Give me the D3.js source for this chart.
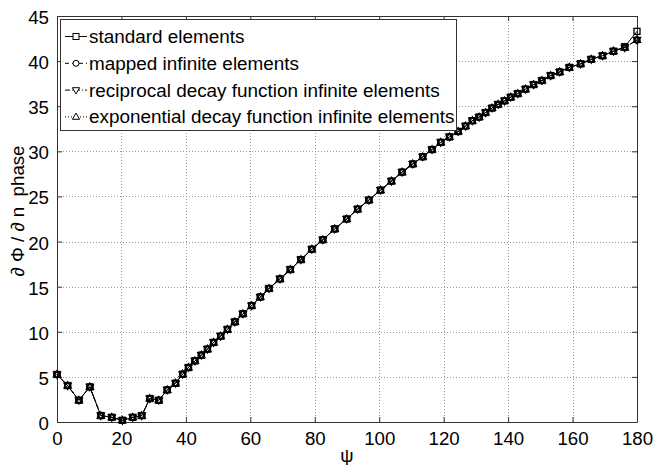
<!DOCTYPE html>
<html lang="en">
<head>
<meta charset="UTF-8">
<title>Phase derivative vs psi</title>
<script src="https://d3js.org/d3.v7.min.js"></script>
<style>
    body { margin: 0; background: #fff; }
    text { font-family: "Liberation Sans", Arial, sans-serif; fill: #000; }
</style>
</head>
<body>
<div id="chart"></div>
<script>
    // psi values (x)
    const psi = [0, 3.3, 6.8, 10.2, 13.6, 17.0, 20.3, 23.5, 26.3, 28.8,
        31.6, 34.2, 36.8, 39.0, 40.8, 42.8, 44.8, 46.7, 48.6, 50.8,
        52.9, 55.2, 57.7, 60.4, 63.1, 65.8, 69.2, 72.4, 75.7, 79.1,
        82.5, 86.2, 89.9, 93.3, 96.8, 100.4, 103.8, 107.1, 110.4, 113.5,
        116.4, 119.1, 121.8, 124.5, 126.8, 128.9, 131.0, 133.0, 135.0, 136.9,
        138.9, 140.8, 143.0, 145.4, 147.9, 150.5, 153.2, 156.0, 159.0, 162.5,
        165.8, 169.3, 172.7, 176.2, 180];

    const standardPhase = [5.27, 4.04, 2.41, 3.89, 0.71, 0.52, 0.19, 0.52, 0.71, 2.6,
        2.41, 3.56, 4.3, 5.3, 6.04, 6.78, 7.41, 8.08, 8.82, 9.52,
        10.27, 11.1, 12.0, 12.9, 13.86, 14.8, 15.86, 16.9, 18.0, 19.15,
        20.2, 21.4, 22.5, 23.6, 24.6, 25.7, 26.7, 27.7, 28.6, 29.4,
        30.2, 31.0, 31.6, 32.2, 32.8, 33.4, 33.8, 34.3, 34.8, 35.2,
        35.6, 36.0, 36.4, 36.9, 37.4, 37.85, 38.4, 38.8, 39.3, 39.7,
        40.2, 40.6, 41.1, 41.6, 43.3];

    const mappedPhase = [5.27, 4.04, 2.41, 3.89, 0.71, 0.52, 0.19, 0.52, 0.71, 2.6,
        2.41, 3.56, 4.3, 5.3, 6.04, 6.78, 7.41, 8.08, 8.82, 9.52,
        10.27, 11.1, 12.0, 12.9, 13.86, 14.8, 15.86, 16.9, 18.0, 19.15,
        20.2, 21.4, 22.5, 23.6, 24.6, 25.7, 26.7, 27.7, 28.6, 29.4,
        30.2, 31.0, 31.6, 32.2, 32.8, 33.4, 33.8, 34.3, 34.8, 35.2,
        35.6, 36.0, 36.4, 36.9, 37.4, 37.85, 38.4, 38.8, 39.3, 39.7,
        40.2, 40.6, 41.1, 41.5, 42.35];

    const reciprocalPhase = [5.27, 4.04, 2.41, 3.89, 0.71, 0.52, 0.19, 0.52, 0.71, 2.6,
        2.41, 3.56, 4.3, 5.3, 6.04, 6.78, 7.41, 8.08, 8.82, 9.52,
        10.27, 11.1, 12.0, 12.9, 13.86, 14.8, 15.86, 16.9, 18.0, 19.15,
        20.2, 21.4, 22.5, 23.6, 24.6, 25.7, 26.7, 27.7, 28.6, 29.4,
        30.2, 31.0, 31.6, 32.2, 32.8, 33.4, 33.8, 34.3, 34.8, 35.2,
        35.6, 36.0, 36.4, 36.9, 37.4, 37.85, 38.4, 38.8, 39.3, 39.7,
        40.2, 40.6, 41.1, 41.5, 42.35];

    const exponentialPhase = [5.27, 4.04, 2.41, 3.89, 0.71, 0.52, 0.19, 0.52, 0.71, 2.6,
        2.41, 3.56, 4.3, 5.3, 6.04, 6.78, 7.41, 8.08, 8.82, 9.52,
        10.27, 11.1, 12.0, 12.9, 13.86, 14.8, 15.86, 16.9, 18.0, 19.15,
        20.2, 21.4, 22.5, 23.6, 24.6, 25.7, 26.7, 27.7, 28.6, 29.4,
        30.2, 31.0, 31.6, 32.2, 32.8, 33.4, 33.8, 34.3, 34.8, 35.2,
        35.6, 36.0, 36.4, 36.9, 37.4, 37.85, 38.4, 38.8, 39.3, 39.7,
        40.2, 40.6, 41.1, 41.5, 42.35];

    const xTicks = [0, 20, 40, 60, 80, 100, 120, 140, 160, 180];
    const yTicks = [0, 5, 10, 15, 20, 25, 30, 35, 40, 45];

    const width = 653;
    const height = 465;
    const margin = {top: 16, right: 16, bottom: 43, left: 57};

    const svg = d3.select("#chart").append("svg")
        .attr("width", width)
        .attr("height", height);

    const x = d3.scaleLinear().domain([0, 180]).range([margin.left, width - margin.right]);
    const y = d3.scaleLinear().domain([0, 45]).range([height - margin.bottom, margin.top]);

    // grid
    const grid = svg.append("g")
        .attr("stroke", "#9a9a9a")
        .attr("stroke-width", 1)
        .attr("stroke-dasharray", "1,2");
    xTicks.slice(1, -1).forEach(t => {
        grid.append("line")
            .attr("x1", Math.round(x(t)) + 0.5).attr("x2", Math.round(x(t)) + 0.5)
            .attr("y1", y(45)).attr("y2", y(0));
    });
    yTicks.slice(1, -1).forEach(t => {
        grid.append("line")
            .attr("x1", x(0)).attr("x2", x(180))
            .attr("y1", Math.round(y(t)) + 0.5).attr("y2", Math.round(y(t)) + 0.5);
    });

    // axes (box with inward ticks on all sides)
    const tickLen = 5;
    svg.append("g")
        .attr("transform", `translate(0,${y(0)})`)
        .call(d3.axisBottom(x).tickValues(xTicks).tickSizeInner(-tickLen).tickSizeOuter(0).tickPadding(10))
        .call(g => g.selectAll("text").attr("font-size", "18.7px").attr("font-family", "Liberation Sans, Arial, sans-serif"));
    svg.append("g")
        .attr("transform", `translate(0,${y(45)})`)
        .call(d3.axisTop(x).tickValues(xTicks).tickSizeInner(-tickLen).tickSizeOuter(0).tickFormat(""));
    svg.append("g")
        .attr("transform", `translate(${x(0)},0)`)
        .call(d3.axisLeft(y).tickValues(yTicks).tickSizeInner(-tickLen).tickSizeOuter(0).tickPadding(8))
        .call(g => g.selectAll("text").attr("font-size", "18.7px").attr("font-family", "Liberation Sans, Arial, sans-serif").attr("dy", "0.4em"));
    svg.append("g")
        .attr("transform", `translate(${x(180)},0)`)
        .call(d3.axisRight(y).tickValues(yTicks).tickSizeInner(-tickLen).tickSizeOuter(0).tickFormat(""));
    svg.selectAll(".domain, .tick line").attr("stroke", "#333");

    // series
    const series = [
        {name: "standard elements", values: standardPhase, dash: null, marker: "square"},
        {name: "mapped infinite elements", values: mappedPhase, dash: "4,3", marker: "circle"},
        {name: "reciprocal decay function infinite elements", values: reciprocalPhase, dash: "5,2,1,2", marker: "down"},
        {name: "exponential decay function infinite elements", values: exponentialPhase, dash: "1,2", marker: "up"}
    ];

    const line = d3.line().x(d => x(d[0])).y(d => y(d[1]));

    function drawMarker(g, type, cx, cy) {
        if (type === "square") {
            g.append("rect").attr("x", cx - 3).attr("y", cy - 3).attr("width", 6).attr("height", 6);
        } else if (type === "circle") {
            g.append("circle").attr("cx", cx).attr("cy", cy).attr("r", 3);
        } else if (type === "down") {
            g.append("path").attr("d", `M${cx - 3.6},${cy - 2.4}L${cx + 3.6},${cy - 2.4}L${cx},${cy + 3.8}Z`);
        } else {
            g.append("path").attr("d", `M${cx - 3.6},${cy + 2.4}L${cx + 3.6},${cy + 2.4}L${cx},${cy - 3.8}Z`);
        }
    }

    series.forEach(s => {
        const pts = psi.map((p, i) => [p, s.values[i]]);
        svg.append("path")
            .datum(pts)
            .attr("fill", "none")
            .attr("stroke", "#000")
            .attr("stroke-width", 1)
            .attr("stroke-dasharray", s.dash)
            .attr("d", line);
        const mg = svg.append("g").attr("fill", "none").attr("stroke", "#000").attr("stroke-width", 1.3);
        pts.forEach(p => drawMarker(mg, s.marker, x(p[0]), y(p[1])));
    });

    // legend
    const legend = svg.append("g").attr("transform", "translate(60,19)");
    legend.append("rect")
        .attr("x", 0.5).attr("y", 0.5)
        .attr("width", 396).attr("height", 111)
        .attr("fill", "#fff")
        .attr("stroke", "#333");
    series.forEach((s, i) => {
        const cy = 17.5 + i * 26.8;
        legend.append("line")
            .attr("x1", 5).attr("x2", 27)
            .attr("y1", cy).attr("y2", cy)
            .attr("stroke", "#000")
            .attr("stroke-dasharray", s.dash);
        const mg = legend.append("g").attr("fill", "#fff").attr("stroke", "#000");
        drawMarker(mg, s.marker, 16, cy);
        legend.append("text")
            .attr("x", 29)
            .attr("y", cy + 6.5)
            .attr("font-size", "18.9px")
            .text(s.name);
    });

    // axis labels
    svg.append("text")
        .attr("x", x(90))
        .attr("y", 462)
        .attr("text-anchor", "middle")
        .attr("font-size", "18.7px")
        .text("ψ");
    svg.append("text")
        .attr("transform", "translate(24,211) rotate(-90)")
        .attr("text-anchor", "middle")
        .attr("font-size", "18.7px")
        .style("white-space", "pre")
        .text("∂ Φ / ∂ n  phase");
</script>
</body>
</html>
